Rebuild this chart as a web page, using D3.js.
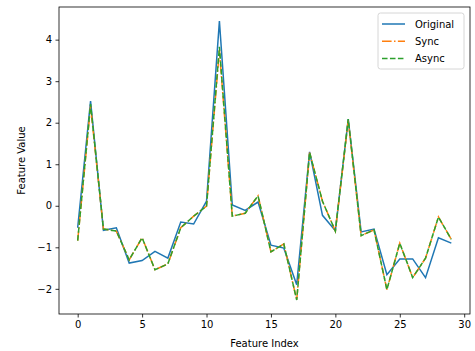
<!DOCTYPE html>
<html><head><meta charset="utf-8">
<script src="https://cdn.jsdelivr.net/npm/d3@7"></script>
<style>body{margin:0;background:#fff}svg{display:block;font-family:"DejaVu Sans",sans-serif}</style>
</head><body>
<svg id="c" width="475" height="351"></svg>
<script>
const xIndex = d3.range(30);
const original = [-0.53,2.52,-0.59,-0.53,-1.38,-1.32,-1.10,-1.26,-0.39,-0.44,0.11,4.45,0.02,-0.11,0.09,-0.95,-1.02,-1.90,1.30,-0.23,-0.60,2.09,-0.63,-0.56,-1.66,-1.28,-1.28,-1.73,-0.77,-0.90];
const async_ = [-0.84,2.45,-0.56,-0.61,-1.30,-0.77,-1.54,-1.40,-0.53,-0.25,-0.01,3.83,-0.25,-0.18,0.24,-1.11,-0.92,-2.27,1.28,0.11,-0.61,2.09,-0.72,-0.58,-2.02,-0.90,-1.73,-1.26,-0.27,-0.81];
const sync = [-0.84,2.40,-0.56,-0.61,-1.30,-0.77,-1.54,-1.40,-0.53,-0.25,-0.01,3.75,-0.25,-0.18,0.24,-1.11,-0.92,-2.27,1.28,0.11,-0.61,2.05,-0.72,-0.58,-2.02,-0.90,-1.73,-1.26,-0.27,-0.81];
const xTicks = [0,5,10,15,20,25,30];
const yTicks = [-2,-1,0,1,2,3,4];
const seriesNames = ["Original","Sync","Async"];

const L=59,R=470,T=7,B=314;
const svg=d3.select("#c");
const x=d3.scaleLinear().domain([-1.45,30.45]).range([L,R]);
const yMin=-2.27, yMax=4.45, m=(yMax-yMin)*0.05;
const y=d3.scaleLinear().domain([yMin-m,yMax+m]).range([B,T]);

const fmt=d=>String(d).replace("-","\u2212");
const gx=svg.append("g").attr("transform",`translate(0,${B})`)
  .call(d3.axisBottom(x).tickValues(xTicks).tickSize(3.5).tickPadding(3.5).tickFormat(fmt));
const gy=svg.append("g").attr("transform",`translate(${L},0)`)
  .call(d3.axisLeft(y).tickValues(yTicks).tickSize(3.5).tickPadding(3.5).tickFormat(fmt));
[gx,gy].forEach(g=>{g.select(".domain").remove();g.selectAll("text").attr("font-size",10).attr("fill","#000").attr("font-family","DejaVu Sans");g.selectAll("line").attr("stroke","#000").attr("stroke-width",0.8);});

const line=d3.line().x((d,i)=>x(xIndex[i])).y(d=>y(d));
const styles=[
 {data:original,color:"#1f77b4",dash:null},
 {data:sync,color:"#ff7f0e",dash:"9.6,2.4,1.5,2.4"},
 {data:async_,color:"#2ca02c",dash:"5.55,2.4"}];
const clip=svg.append("clipPath").attr("id","cp").append("rect").attr("x",L).attr("y",T).attr("width",R-L).attr("height",B-T);
styles.forEach(s=>{
 svg.append("path").attr("d",line(s.data)).attr("fill","none").attr("stroke",s.color).attr("stroke-width",1.5)
  .attr("stroke-dasharray",s.dash).attr("clip-path","url(#cp)");
});
svg.append("rect").attr("x",L).attr("y",T).attr("width",R-L).attr("height",B-T).attr("fill","none").attr("stroke","#000").attr("stroke-width",0.8);

svg.append("text").attr("x",(L+R)/2).attr("y",347).attr("text-anchor","middle").attr("font-size",10).text("Feature Index");
svg.append("text").attr("transform",`translate(25,${(T+B)/2}) rotate(-90)`).attr("text-anchor","middle").attr("font-size",10).text("Feature Value");

const lg=svg.append("g");
lg.append("rect").attr("x",378).attr("y",13).attr("width",86).attr("height",56).attr("rx",2.5)
 .attr("fill","#fff").attr("fill-opacity",0.8).attr("stroke","#ccc").attr("stroke-width",0.8);
styles.forEach((s,i)=>{
 const yy=24+i*17.3;
 lg.append("line").attr("x1",382).attr("x2",405).attr("y1",yy).attr("y2",yy).attr("stroke",s.color).attr("stroke-width",1.5).attr("stroke-dasharray",s.dash);
 lg.append("text").attr("x",415).attr("y",yy+3.5).attr("font-size",10).text(seriesNames[i]);
});
</script>
</body></html>
